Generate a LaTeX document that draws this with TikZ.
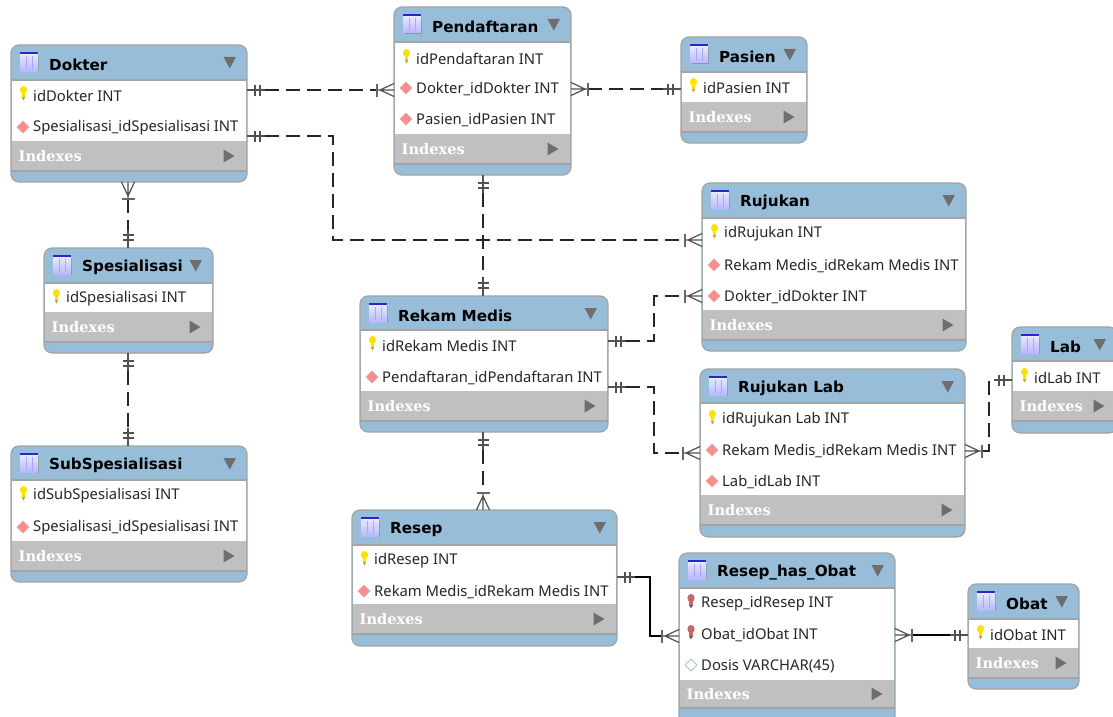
\documentclass[tikz,border=0pt]{standalone}
\usepackage{fontspec}
\setmainfont{Noto Sans}
\newfontfamily\idxfont{DejaVu Serif}
\newfontfamily\ttlfont{DejaVu Sans}
\usetikzlibrary{calc}
\definecolor{hdr}{HTML}{97BDD8}
\definecolor{idx}{HTML}{C0C0C0}
\definecolor{edge}{HTML}{A3A3A3}
\definecolor{tri}{HTML}{6E6E6E}
\definecolor{conn}{HTML}{262626}
\tikzset{
  tblbox/.style={draw=edge,line width=1.2pt,fill=hdr,rounded corners=8pt,outer sep=0pt,inner sep=0pt},
  titletext/.style={anchor=west,inner sep=0pt,font=\fontsize{15.2}{16}\selectfont\ttlfont\bfseries,text=black},
  rowtext/.style={anchor=west,inner sep=0pt,font=\fontsize{14.8}{15}\selectfont,text=black!85},
  idxtext/.style={anchor=west,inner sep=0pt,font=\fontsize{14.6}{15}\selectfont\idxfont\bfseries,text=white},
  relline/.style={draw=conn,line width=1.3pt,dash pattern=on 14pt off 7pt},
  relsolid/.style={draw=black,line width=1.3pt},
  pics/crowfoot/.style={code={
    \draw[draw=conn!80,line width=1.2pt] (0,-6.5)--(14,0)--(0,6.5) (0,0)--(17,0);
    \draw[draw=conn!70,line width=1.6pt] (17,-6.5)--(17,6.5);}},
  pics/oneone/.style={code={
    \draw[draw=conn!80,line width=1.2pt] (0,0)--(18,0);
    \draw[draw=conn!80,line width=1.3pt] (8,-5.5)--(8,5.5) (13,-5.5)--(13,5.5);}},
}
% name, x0, y0, x1, y1, header bottom, rows bottom, index bottom, title
\newcommand{\ertable}[9]{%
  \pgfmathsetmacro{\tw}{#4-#2}\pgfmathsetmacro{\th}{#5-#3}%
  \pgfmathsetmacro{\cx}{(#2+#4)/2}\pgfmathsetmacro{\cy}{(#3+#5)/2}%
  \node[tblbox,minimum width=\tw pt,minimum height=\th pt] (#1) at (\cx,\cy) {};
  \fill[white] (#2+0.6,#6) rectangle (#4-0.6,#7);
  \fill[idx] (#2+0.6,#7) rectangle (#4-0.6,#8);
  \draw[edge,line width=1.2pt] (#2,#6)--(#4,#6) (#2,#8)--(#4,#8);
  % table icon
  \fill[gray!60!hdr] (#2+10.5,#3+10) rectangle (#2+28,#3+27);
  \fill[top color=blue!8!white,bottom color=blue!28!white] (#2+9,#3+8) rectangle (#2+27,#3+26);
  \fill[blue!75!black!85] (#2+9,#3+7) rectangle (#2+27,#3+9);
  \draw[blue!35!white,line width=.8pt] (#2+15,#3+11)--(#2+15,#3+24) (#2+21,#3+11)--(#2+21,#3+24);
  \node[titletext] (#1-title) at (#2+38,#3+19.5) {#9};
  % triangles
  \fill[tri] (#4-23.5,#3+12) -- (#4-11,#3+12) -- (#4-17.25,#3+23.5) -- cycle;
  \pgfmathsetmacro{\iy}{(#7+#8)/2}%
  \fill[tri] (#4-23.5,\iy-6.5) -- (#4-12.5,\iy) -- (#4-23.5,\iy+6.5) -- cycle;
  \node[idxtext] (#1-idx) at (#2+7.5,\iy) {Indexes};
}
\newcommand{\keyicon}[3]{% x y colour
  \fill[#3] (#1,#2-3.5) ellipse (3.6 and 4);
  \fill[#3] (#1-1.8,#2-2) rectangle (#1+1.8,#2+4);
  \fill[#3!70!black] (#1,#2+7) -- (#1-1.8,#2+3.5) -- (#1+1.8,#2+3.5) -- cycle;
}
\newcommand{\fkicon}[2]{%
  \fill[red!45!white,draw=red!30!gray!50,line width=.5pt] (#1-6,#2) -- (#1,#2-6) -- (#1+6,#2) -- (#1,#2+6) -- cycle;
}
\newcommand{\plainicon}[2]{%
  \fill[white,draw=cyan!40!gray!60,line width=.9pt] (#1-6,#2) -- (#1,#2-6) -- (#1+6,#2) -- (#1,#2+6) -- cycle;
}
\newcommand{\pkrow}[4]{\keyicon{#2+12.5}{#3-1.5}{yellow!85!orange}\node[rowtext] (#1) at (#2+22,#3+1) {#4};}
\newcommand{\pfrow}[4]{\keyicon{#2+12}{#3-1.5}{red!65!black!60!white}\node[rowtext] (#1) at (#2+22,#3+1) {#4};}
\newcommand{\fkrow}[4]{\fkicon{#2+12}{#3}\node[rowtext] (#1) at (#2+22,#3+1) {#4};}
\newcommand{\plrow}[4]{\plainicon{#2+12}{#3}\node[rowtext] (#1) at (#2+22,#3+1) {#4};}
\begin{document}
\begin{tikzpicture}[x=1pt,y=-1pt]
\clip (0,0) rectangle (1113,717);
\useasboundingbox (0,0) rectangle (1113,717);

\ertable{dokter}{11}{45}{247}{182}{80}{141}{171}{Dokter}
\pkrow{dokter-r1}{11}{95}{idDokter INT}
\fkrow{dokter-r2}{11}{127}{Spesialisasi\_idSpesialisasi INT}

\ertable{pendaftaran}{394}{7}{571}{175}{42}{134}{164}{Pendaftaran}
\pkrow{pend-r1}{394}{58}{idPendaftaran INT}
\fkrow{pend-r2}{394}{88}{Dokter\_idDokter INT}
\fkrow{pend-r3}{394}{119}{Pasien\_idPasien INT}

\ertable{pasien}{681}{37}{807}{143}{72}{102}{132}{Pasien}
\pkrow{pasien-r1}{681}{87}{idPasien INT}

\ertable{spesialisasi}{44}{248}{213}{353}{283}{312}{342}{Spesialisasi}
\pkrow{spes-r1}{44}{298}{idSpesialisasi INT}

\ertable{subspes}{11}{446}{247}{582}{480}{541}{571}{SubSpesialisasi}
\pkrow{sub-r1}{11}{495}{idSubSpesialisasi INT}
\fkrow{sub-r2}{11}{527}{Spesialisasi\_idSpesialisasi INT}

\ertable{rekam}{360}{296}{608}{432}{330}{391}{421}{Rekam Medis}
\pkrow{rekam-r1}{360}{345}{idRekam Medis INT}
\fkrow{rekam-r2}{360}{377}{Pendaftaran\_idPendaftaran INT}

\ertable{rujukan}{702}{183}{966}{351}{218}{310}{340}{Rujukan}
\pkrow{ruj-r1}{702}{233}{idRujukan INT}
\fkrow{ruj-r2}{702}{265}{Rekam Medis\_idRekam Medis INT}
\fkrow{ruj-r3}{702}{296}{Dokter\_idDokter INT}

\ertable{rujlab}{700}{369}{965}{537}{403}{495}{525}{Rujukan Lab}
\pkrow{rl-r1}{700}{419}{idRujukan Lab INT}
\fkrow{rl-r2}{700}{450}{Rekam Medis\_idRekam Medis INT}
\fkrow{rl-r3}{700}{481}{Lab\_idLab INT}

\ertable{lab}{1012}{327}{1117}{433}{361}{391}{421}{Lab}
\pkrow{lab-r1}{1012}{377}{idLab INT}

\ertable{resep}{352}{510}{617}{646}{545}{604}{634}{Resep}
\pkrow{resep-r1}{352}{560}{idResep INT}
\fkrow{resep-r2}{352}{591}{Rekam Medis\_idRekam Medis INT}

\ertable{rho}{679}{553}{895}{726}{588}{680}{708}{Resep\_has\_Obat}
\pfrow{rho-r1}{679}{603}{Resep\_idResep INT}
\pfrow{rho-r2}{679}{634}{Obat\_idObat INT}
\plrow{rho-r3}{679}{665}{Dosis VARCHAR(45)}

\ertable{obat}{968}{584}{1079}{689}{619}{648}{678}{Obat}
\pkrow{obat-r1}{968}{634}{idObat INT}

% connector end points
\coordinate (a1) at (dokter.east |- 0,90);
\coordinate (a2) at (pendaftaran.west |- 0,90);
\coordinate (b1) at (dokter.east |- 0,136);
\coordinate (b2) at (rujukan.west |- 0,240);
\coordinate (c1) at (pendaftaran.east |- 0,89);
\coordinate (c2) at (pasien.west |- 0,89);
\coordinate (d1) at (483,175);
\coordinate (d2) at (483,296);
\coordinate (e1) at (128,182);
\coordinate (e2) at (128,248);
\coordinate (f1) at (128,353);
\coordinate (f2) at (128,446);
\coordinate (g1) at (rekam.east |- 0,341);
\coordinate (g2) at (rujukan.west |- 0,296);
\coordinate (h1) at (rekam.east |- 0,387);
\coordinate (h2) at (rujlab.west |- 0,453);
\coordinate (i1) at (483,432);
\coordinate (i2) at (483,510);
\coordinate (j1) at (resep.east |- 0,577);
\coordinate (j2) at (rho.west |- 0,636);
\coordinate (k1) at (rho.east |- 0,635);
\coordinate (k2) at (obat.west |- 0,635);
\coordinate (l1) at (rujlab.east |- 0,451);
\coordinate (l2) at (lab.west |- 0,380);

% connectors
\draw[relline] (a1) ++(18,0) -- ($(a2)+(-17,0)$);
\draw[relline] (b1) ++(18,0) -| (333,240) -- ($(b2)+(-17,0)$);
\draw[relline] (c1) ++(17,0) -- ($(c2)+(-18,0)$);
\draw[relline] (d1) ++(0,18) -- ($(d2)+(0,-18)$);
\draw[relline] (e1) ++(0,17) -- ($(e2)+(0,-18)$);
\draw[relline] (f1) ++(0,18) -- ($(f2)+(0,-18)$);
\draw[relline] (g1) ++(18,0) -| (654,296) -- ($(g2)+(-17,0)$);
\draw[relline] (h1) ++(18,0) -| (654,453) -- ($(h2)+(-17,0)$);
\draw[relline] (i1) ++(0,18) -- ($(i2)+(0,-17)$);
\draw[relsolid] (j1) ++(18,0) -| (650,636) -- ($(j2)+(-17,0)$);
\draw[relsolid] (k1) ++(17,0) -- ($(k2)+(-18,0)$);
\draw[relline] (l1) ++(17,0) -| (989,380) -- ($(l2)+(-18,0)$);

% end marks
\pic at (a1) {oneone};
\pic[rotate=180] at (a2) {crowfoot};
\pic at (b1) {oneone};
\pic[rotate=180] at (b2) {crowfoot};
\pic at (c1) {crowfoot};
\pic[rotate=180] at (c2) {oneone};
\pic[rotate=-90] at (d1) {oneone};
\pic[rotate=90] at (d2) {oneone};
\pic[rotate=-90] at (e1) {crowfoot};
\pic[rotate=90] at (e2) {oneone};
\pic[rotate=-90] at (f1) {oneone};
\pic[rotate=90] at (f2) {oneone};
\pic at (g1) {oneone};
\pic[rotate=180] at (g2) {crowfoot};
\pic at (h1) {oneone};
\pic[rotate=180] at (h2) {crowfoot};
\pic[rotate=-90] at (i1) {oneone};
\pic[rotate=90] at (i2) {crowfoot};
\pic at (j1) {oneone};
\pic[rotate=180] at (j2) {crowfoot};
\pic at (k1) {crowfoot};
\pic[rotate=180] at (k2) {oneone};
\pic at (l1) {crowfoot};
\pic[rotate=180] at (l2) {oneone};
\end{tikzpicture}
\end{document}
